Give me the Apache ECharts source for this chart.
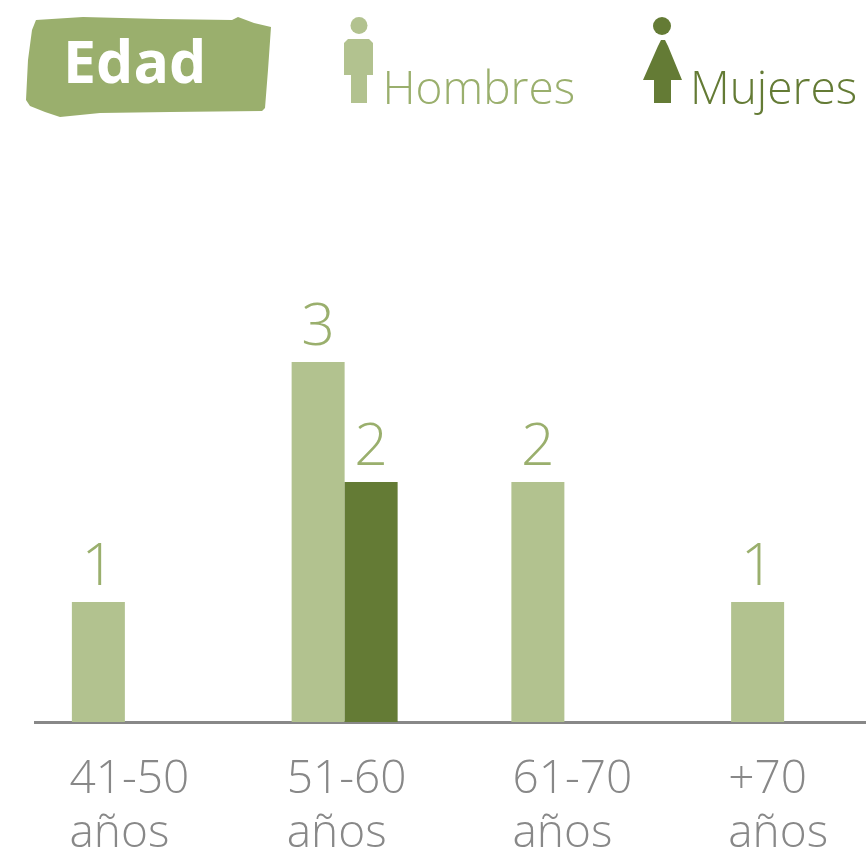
<!DOCTYPE html>
<html>
<head>
<meta charset="utf-8">
<style>html,body{margin:0;padding:0;background:#fff}#chart{width:866px;height:854px}</style>
<script src="https://cdn.jsdelivr.net/npm/echarts@6/dist/echarts.min.js"></script>
</head>
<body>
<div id="chart"></div>
<script>
const title = 'Edad'
const categories = ['41-50', '51-60', '61-70', '+70']
const unitLabel = 'años'
const hombres = [1, 3, 2, 1]
const mujeres = [null, 2, null, null]

const font = '"Open Sans", sans-serif'
const lightGreen = '#B2C28F'
const darkGreen = '#647B35'
const midGreen = '#9AAF6D'
const grey = '#888888'

const brushShape = [[36,20],[83,17],[160,19],[232,20],[238,17],[254,23],[271,27],[268,70],[265,108],[262,111],[170,112],[100,113],[60,117],[45,112],[30,106],[26,100],[28,60],[32,30]]
const manBody = [[348,39],[369,39],[373,43],[373,75],[367,75],[367,103],[351,103],[351,75],[344,75],[344,43]]
const womanBody = [[661,40],[665,40],[668,46],[682,80],[671,80],[671,103],[654,103],[654,80],[643,80],[658,46]]

const tickStyle = { align: 'left', fontFamily: font, fontWeight: 300, fontSize: 46, lineHeight: 54, color: grey }

const chart = echarts.init(document.getElementById('chart'))
chart.setOption({
  animation: false,
  backgroundColor: '#fff',
  grid: { left: 15, width: 879, top: 122, height: 600, outerBoundsMode: 'none' },
  xAxis: {
    type: 'category',
    data: categories,
    axisLine: { show: false },
    axisTick: { show: false },
    axisLabel: {
      interval: 0,
      margin: 31,
      // the labels are not evenly placed under the bars in the source
      formatter: (v, i) => {
        const s = 'abcd'[i]
        return `{${s}|${v}}\n{${s}|${unitLabel}}`
      },
      rich: {
        a: { ...tickStyle, width: 111 },
        b: { ...tickStyle, width: 116 },
        c: { ...tickStyle, width: 104 },
        d: { ...tickStyle, width: 112 },
      },
    },
  },
  yAxis: { type: 'value', min: 0, max: 5, show: false },
  series: [
    {
      name: 'Hombres',
      type: 'bar',
      data: hombres,
      barWidth: 53,
      barGap: 0,
      itemStyle: { color: lightGreen },
      label: { show: true, position: 'top', distance: 4, fontFamily: font, fontWeight: 300, fontSize: 59, color: midGreen },
    },
    {
      name: 'Mujeres',
      type: 'bar',
      data: mujeres,
      barWidth: 53,
      itemStyle: { color: darkGreen },
      label: { show: true, position: 'top', distance: 4, fontFamily: font, fontWeight: 300, fontSize: 59, color: midGreen },
    },
  ],
  graphic: [
    { type: 'rect', shape: { x: 34, y: 721, width: 832, height: 3 }, style: { fill: grey } },
    { type: 'polygon', shape: { points: brushShape }, style: { fill: midGreen } },
    { type: 'text', x: 63, y: 66, style: { text: title, fontFamily: font, fontWeight: 700, fontSize: 59, fill: '#fff', verticalAlign: 'middle' } },
    { type: 'circle', shape: { cx: 359, cy: 25.5, r: 8.5 }, style: { fill: lightGreen } },
    { type: 'polygon', shape: { points: manBody }, style: { fill: lightGreen } },
    { type: 'text', x: 382.5, y: 91, style: { text: 'Hombres', fontFamily: font, fontWeight: 300, fontSize: 46, fill: midGreen, verticalAlign: 'middle' } },
    { type: 'circle', shape: { cx: 662, cy: 26, r: 9 }, style: { fill: darkGreen } },
    { type: 'polygon', shape: { points: womanBody }, style: { fill: darkGreen } },
    { type: 'text', x: 690, y: 91, style: { text: 'Mujeres', fontFamily: font, fontWeight: 300, fontSize: 46, fill: darkGreen, verticalAlign: 'middle' } },
  ],
})
window.addEventListener('resize', () => chart.resize())
</script>
</body>
</html>
